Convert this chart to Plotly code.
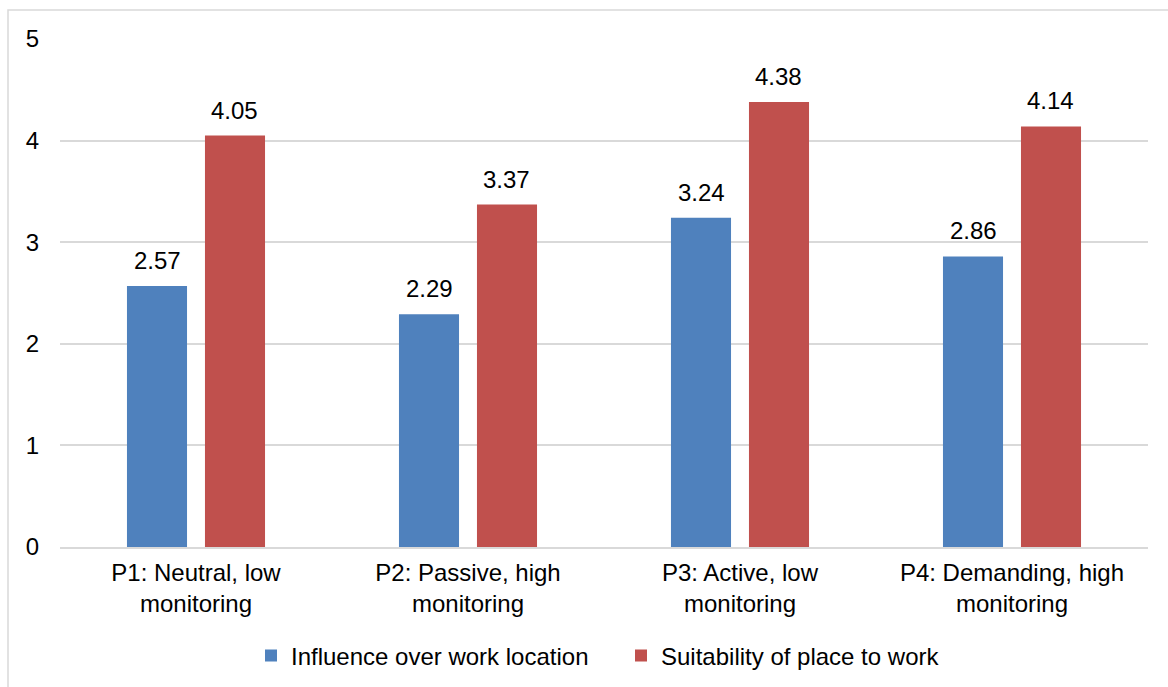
import plotly.graph_objects as go

categories = ["P1: Neutral, low<br>monitoring", "P2: Passive, high<br>monitoring",
              "P3: Active, low<br>monitoring", "P4: Demanding, high<br>monitoring"]
influence = [2.57, 2.29, 3.24, 2.86]
suitability = [4.05, 3.37, 4.38, 4.14]
y_ticks = [0, 1, 2, 3, 4, 5]

FONT = "Liberation Sans, Arial, sans-serif"
FS = 24
BLUE, RED = "#4f81bd", "#c0504d"

W, H = 1168, 687
L, R, T, B = 60, 20, 39, 140
pw, ph = W - L - R, H - T - B
BARGAP, GROUPGAP = 0.4265, 0.23


def px_x(x):
    return (x - L) / pw


def px_y(y):
    return (H - B - y) / ph


fig = go.Figure()
fig.add_trace(go.Bar(name="Influence over work location", x=categories, y=influence,
                     marker=dict(color=BLUE, line=dict(width=0))))
fig.add_trace(go.Bar(name="Suitability of place to work", x=categories, y=suitability,
                     marker=dict(color=RED, line=dict(width=0))))

# value labels above each bar, shifted to the bar's slot within its group
slot = (pw / len(categories)) * (1 - BARGAP) / 2
annotations = []
for series, sign in ((influence, -1), (suitability, 1)):
    for cat, v in zip(categories, series):
        annotations.append(dict(x=cat, y=v, xref="x", yref="y", text=f"{v:.2f}",
                                showarrow=False, xshift=sign * slot / 2, yshift=10,
                                yanchor="bottom",
                                font=dict(size=FS, color="#000000", family=FONT)))

fig.update_layout(
    width=W, height=H,
    margin=dict(l=L, r=R, t=T, b=B, autoexpand=False),
    paper_bgcolor="white", plot_bgcolor="white",
    barmode="group", bargap=BARGAP, bargroupgap=GROUPGAP,
    font=dict(family=FONT, size=FS, color="#000000"),
    showlegend=True,
    legend=dict(orientation="h", x=px_x(251), xanchor="left", y=px_y(656), yanchor="middle",
                font=dict(size=FS, color="#000000"), itemwidth=30, entrywidth=325,
                traceorder="normal"),
    xaxis=dict(showline=True, linecolor="#d9d9d9", linewidth=2, tickfont=dict(size=FS),
               showgrid=False, ticks="", ticklabelstandoff=3, automargin=False),
    yaxis=dict(range=[0, 5], tickvals=y_ticks, showgrid=True, gridcolor="#d9d9d9",
               gridwidth=1.5, zeroline=False, showline=False, ticks="",
               tickfont=dict(size=FS), ticklabelstandoff=20, automargin=False),
    annotations=annotations,
    shapes=[dict(type="rect", xref="paper", yref="paper",
                 x0=px_x(8), x1=px_x(1172), y0=px_y(692), y1=px_y(10),
                 line=dict(color="#d9d9d9", width=1.5), fillcolor="rgba(0,0,0,0)", layer="below")],
)

fig.write_html("out.html")
